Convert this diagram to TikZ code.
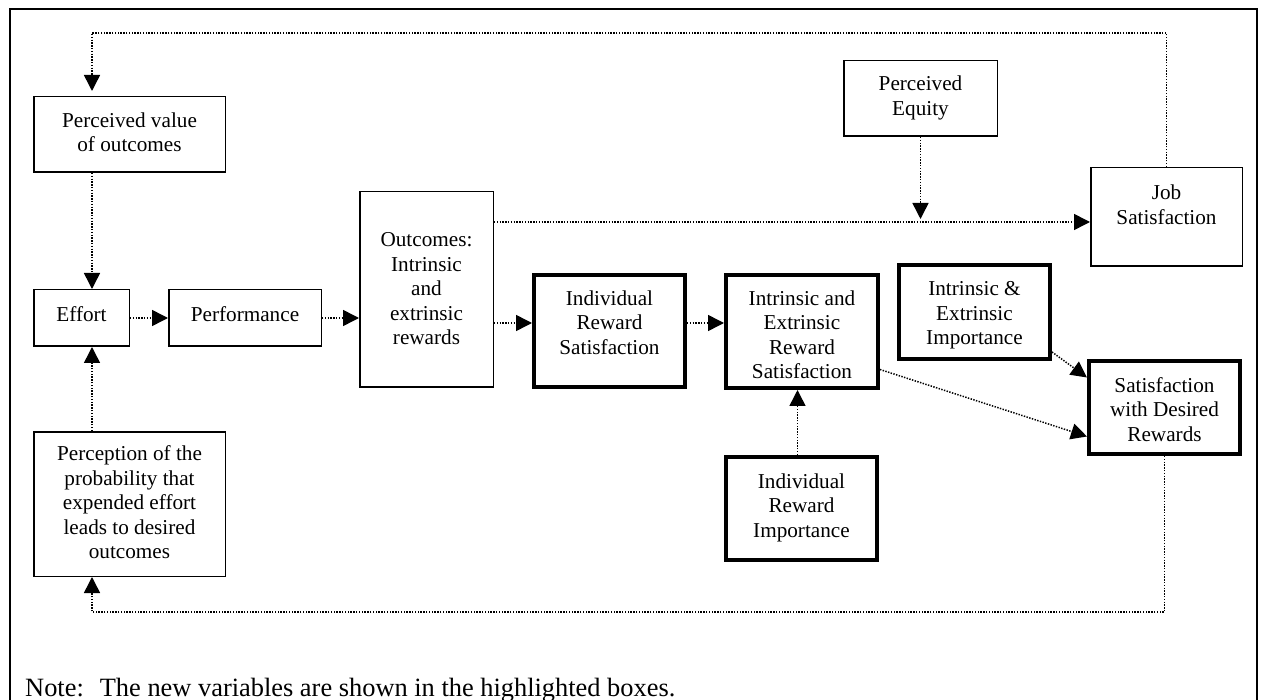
\documentclass[tikz,border=0pt]{standalone}
\usepackage{fontspec}
\setmainfont{Liberation Serif}
\usetikzlibrary{arrows.meta,calc}

\begin{document}
\begin{tikzpicture}[x=1pt,y=-1pt,
  thinbox/.style={draw, line width=1.5pt, inner sep=0pt},
  thickbox/.style={draw, line width=4pt, inner sep=0pt},
  boxtext/.style={align=center, inner sep=0pt,
    font=\fontsize{21.2}{24.5}\selectfont,
    execute at begin node=\strut, execute at end node=\strut},
  flow/.style={line width=1.5pt, dash pattern=on 1.4pt off 1.4pt,
    -{Triangle[length=16pt,width=16pt]}},
]
\useasboundingbox (0,0) rectangle (1261,700);

% outer frame (open at the bottom edge of the page)
\draw[line width=2pt] (10,702) -- (10,9) -- (1257,9) -- (1257,702);

% ---- original model (thin boxes) ----
\node[thinbox, minimum width=191.5pt, minimum height=75.5pt]  (pv)   at (129.5,134.5) {};
\node[thinbox, minimum width=95.5pt,  minimum height=56.5pt]  (eff)  at (81.5,318)    {};
\node[thinbox, minimum width=152.5pt, minimum height=56.5pt]  (perf) at (245,318)     {};
\node[thinbox, minimum width=133.5pt, minimum height=195.5pt] (out)  at (426.5,289.5) {};
\node[thinbox, minimum width=191.5pt, minimum height=144.5pt] (prob) at (129.5,504)   {};
\node[thinbox, minimum width=153.5pt, minimum height=75.5pt]  (pe)   at (920.5,98.5)  {};
\node[thinbox, minimum width=151.5pt, minimum height=98.5pt]  (job)  at (1166.5,217)  {};

% ---- new variables (thick boxes) ----
\node[thickbox, minimum width=151pt, minimum height=112pt] (irs)  at (609.5,331)   {};
\node[thickbox, minimum width=152pt, minimum height=113pt] (iers) at (802,331.5)   {};
\node[thickbox, minimum width=151pt, minimum height=94pt]  (iei)  at (974.5,312)   {};
\node[thickbox, minimum width=151pt, minimum height=103pt] (iri)  at (801.5,508.5) {};
\node[thickbox, minimum width=151pt, minimum height=93pt]  (swdr) at (1164.5,407.5) {};

% ---- box texts ----
\node[boxtext] (pv-t)   at ([yshift=-1.5pt]pv.center)  {Perceived value\\of outcomes};
\node[boxtext] (eff-t)  at ([yshift=1pt]eff.center)    {Effort};
\node[boxtext] (perf-t) at ([yshift=1pt]perf.center)   {Performance};
\node[boxtext] (out-t)  at ([yshift=-3pt]out.center)   {Outcomes:\\Intrinsic\\and\\extrinsic\\rewards};
\node[boxtext] (prob-t) at ([yshift=-2pt]prob.center)  {Perception of the\\probability that\\expended effort\\leads to desired\\outcomes};
\node[boxtext] (pe-t)   at ([yshift=-1pt]pe.center)    {Perceived\\Equity};
\node[boxtext] (job-t)  at ([yshift=8.5pt]job.center)  {Job\\Satisfaction};
\node[boxtext] (irs-t)  at ([yshift=5pt]irs.center)    {Individual\\Reward\\Satisfaction};
\node[boxtext] (iers-t) at ([yshift=-7pt]iers.center)  {Intrinsic and\\Extrinsic\\Reward\\Satisfaction};
\node[boxtext] (iei-t)  at ([yshift=-5pt]iei.center)   {Intrinsic \&\\Extrinsic\\Importance};
\node[boxtext] (iri-t)  at ([yshift=-0.5pt]iri.center) {Individual\\Reward\\Importance};
\node[boxtext] (swdr-t) at ([yshift=-5.5pt]swdr.center) {Satisfaction\\with Desired\\Rewards};

% ---- helper points for the routed connectors ----
\coordinate (tl) at (92,33);
\coordinate (bl) at (92,612);
\coordinate (hy) at ([yshift=-5pt]job.west);
\coordinate (my) at ([yshift=8pt]irs.west);

% feedback from job satisfaction to perceived value
\draw[flow, shorten >=5pt] (job.north) -- (job.north |- tl) -- (tl) -- (tl |- pv.north);
% feedback from satisfaction with desired rewards to perception of probability
\draw[flow] (swdr.south) -- (swdr.south |- bl) -- (bl) -- (bl |- prob.south);

\draw[flow] (tl |- pv.south) -- (tl |- eff.north);
\draw[flow] (tl |- prob.north) -- (tl |- eff.south);
\draw[flow] (eff) -- (perf);
\draw[flow] (perf.east) -- (perf.east -| out.west);
\draw[flow] (hy -| out.east) -- (hy);
\draw[flow, shorten >=3pt] (pe.south) -- (pe.south |- hy);
\draw[flow] (my -| out.east) -- (my);
\draw[flow] (my -| irs.east) -- (my -| iers.west);
\draw[flow] ([xshift=-4pt]iri.north) -- ([xshift=-4pt]iri.north |- iers.south);
\draw[flow] ([yshift=-38pt]iers.east) -- ([yshift=-29pt]swdr.west);
\draw[flow] ([yshift=-40pt]iei.east) -- ([yshift=30pt]swdr.west);

% note line
\node[anchor=base west, inner sep=0pt, font=\fontsize{26.4}{30}\selectfont] (note) at (25,696)
  {Note:\hspace{16pt}The new variables are shown in the highlighted boxes.};
\end{tikzpicture}
\end{document}
